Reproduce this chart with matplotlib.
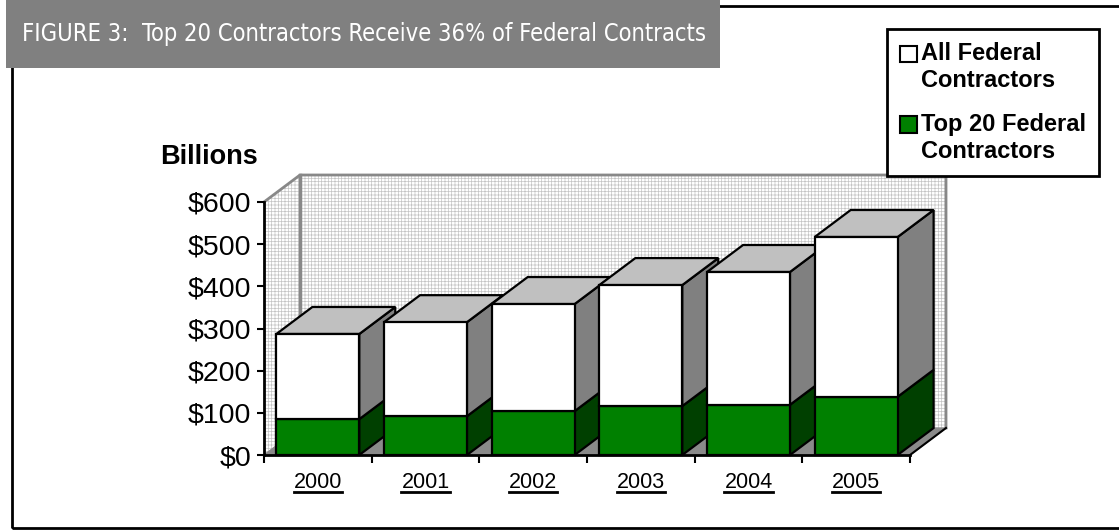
import matplotlib
matplotlib.use('Agg')
import matplotlib.pyplot as plt
from matplotlib.patches import Polygon, Rectangle, Patch
from matplotlib.lines import Line2D
from matplotlib.transforms import IdentityTransform, blended_transform_factory
from matplotlib import font_manager

# contract dollars, billions (stacked: top 20 at the bottom, all contractors on top)
years = ['2000', '2001', '2002', '2003', '2004', '2005']
top20_contractors = [85, 92, 104, 116, 119, 138]
all_contractors = [202, 223, 254, 287, 315, 379]
y_ticks = [0, 100, 200, 300, 400, 500, 600]
y_tick_labels = ['$0', '$100', '$200', '$300', '$400', '$500', '$600']
legend_labels = ['All Federal\nContractors', 'Top 20 Federal\nContractors']
title = 'FIGURE 3:  Top 20 Contractors Receive 36% of Federal Contracts'

plt.rcParams['font.family'] = ['Liberation Sans', 'DejaVu Sans']
plt.rcParams['hatch.linewidth'] = 0.5

installed = {f.name for f in font_manager.fontManager.ttflist}
narrow = 'Liberation Sans Narrow' if 'Liberation Sans Narrow' in installed else 'DejaVu Sans'

W, H = 1119, 531
fig = plt.figure(figsize=(W / 100, H / 100), dpi=100)


def fx(x):
    return x / W


def fy(y):
    return 1 - y / H


# page frame and title band
fig.add_artist(Rectangle((fx(12), fy(528)), fx(1130) - fx(12), fy(6) - fy(528),
                         transform=fig.transFigure, fill=False, edgecolor='black', linewidth=2))
fig.add_artist(Rectangle((fx(6), fy(68)), fx(720) - fx(6), fy(0) - fy(68),
                         transform=fig.transFigure, facecolor='#808080', edgecolor='none'))
title_text = fig.text(fx(22), fy(34), title, color='white', fontsize=17,
                      family=[narrow, 'DejaVu Sans'], fontstretch='condensed',
                      va='center', ha='left')

# front plane of the plot: x in categories, y in billions
ax = fig.add_axes([fx(264), fy(455), fx(910) - fx(264), fy(202) - fy(455)])
n = len(years)
ax.set_xlim(0, n)
ax.set_ylim(0, 600)
ax.patch.set_visible(False)

# depth offset of the 3-d box, converted from pixels to data units
ddx = 36 / ((910 - 264) / n)
ddy = 27 / ((455 - 202) / 600)
top = 600

# walls with a fine grid pattern
back = [(ddx, ddy), (n + ddx, ddy), (n + ddx, top + ddy), (ddx, top + ddy)]
side = [(0, 0), (ddx, ddy), (ddx, top + ddy), (0, top)]
for pts in (back, side):
    ax.add_patch(Polygon(pts, facecolor='white', edgecolor='none', clip_on=False, zorder=0))
    ax.add_patch(Polygon(pts, fill=False, hatch='+++++', edgecolor='#c4c4c4', linewidth=0,
                         clip_on=False, zorder=0.1))
ax.plot([0, ddx, n + ddx, n + ddx], [top, top + ddy, top + ddy, ddy], color='#888888',
        linewidth=2, clip_on=False, zorder=0.2)
ax.plot([ddx, ddx], [ddy, top + ddy], color='#888888', linewidth=2.5, clip_on=False, zorder=0.2)

# floor
ax.add_patch(Polygon([(0, 0), (n, 0), (n + ddx, ddy), (ddx, ddy)], facecolor='#8a8a8a',
                     edgecolor='#8a8a8a', clip_on=False, zorder=0.3))
ax.plot([n, n + ddx], [0, ddy], color='black', linewidth=1.5, clip_on=False, zorder=0.4)

# stacked 3-d columns
bw = 0.77
edge = dict(edgecolor='black', linewidth=1.6, clip_on=False, joinstyle='miter')
for i, (g, a) in enumerate(zip(top20_contractors, all_contractors)):
    x0 = i + (1 - bw) / 2
    x1 = x0 + bw
    t = g + a
    z = 1 + i
    ax.add_patch(Polygon([(x1, 0), (x1 + ddx, ddy), (x1 + ddx, g + ddy), (x1, g)],
                         facecolor='#004000', zorder=z, **edge))
    ax.add_patch(Polygon([(x1, g), (x1 + ddx, g + ddy), (x1 + ddx, t + ddy), (x1, t)],
                         facecolor='#808080', zorder=z, **edge))
    ax.add_patch(Polygon([(x0, t), (x1, t), (x1 + ddx, t + ddy), (x0 + ddx, t + ddy)],
                         facecolor='#c0c0c0', zorder=z, **edge))
    ax.add_patch(Rectangle((x0, 0), bw, g, facecolor='#008000', zorder=z, **edge))
    ax.add_patch(Rectangle((x0, g), bw, a, facecolor='white', zorder=z, **edge))

# axes
for s in ('top', 'right'):
    ax.spines[s].set_visible(False)
for s in ('left', 'bottom'):
    ax.spines[s].set_linewidth(2)
    ax.spines[s].set_zorder(20)
ax.set_yticks(y_ticks, y_tick_labels, fontsize=20.5)
ax.set_xticks(range(n + 1), [''] * (n + 1))
ax.tick_params(axis='y', length=5, width=1.5, pad=4)
ax.tick_params(axis='x', length=6, width=1.5)

trans = blended_transform_factory(ax.transData, ax.transAxes)
year_texts = [ax.text(i + 0.5, -27 / 253, y, transform=trans, ha='center', va='center',
                      fontsize=15.5) for i, y in enumerate(years)]

fig.text(fx(160), fy(157), 'Billions', fontsize=19.5, fontweight='bold', va='center', ha='left')

handles = [Patch(facecolor='white', edgecolor='black', linewidth=1.5),
           Patch(facecolor='#008000', edgecolor='black', linewidth=1.5)]
leg = fig.legend(handles, legend_labels, loc='upper left', bbox_to_anchor=(fx(887), fy(29)),
                 prop=dict(weight='bold', size=17), handlelength=0.7, handleheight=0.7,
                 handletextpad=0.2, labelspacing=0.85, borderpad=0.55, borderaxespad=0,
                 fancybox=False, framealpha=1)
leg.get_frame().set_edgecolor('black')
leg.get_frame().set_linewidth(2)
for txt in leg.get_texts():
    txt.set_linespacing(1.25)
for h in leg.legend_handles:
    h.set_y(h.get_y() + 10)

fig.canvas.draw()
renderer = fig.canvas.get_renderer()

# fit the title into the band
tw = title_text.get_window_extent(renderer).width
title_text.set_fontsize(17 * 683 / tw)

# underline the year labels
for t in year_texts:
    bb = t.get_window_extent(renderer)
    fig.add_artist(Line2D([bb.x0, bb.x1], [bb.y0 + 1, bb.y0 + 1], transform=IdentityTransform(),
                          color='black', linewidth=2))

fig.savefig('out.png', dpi=100)
